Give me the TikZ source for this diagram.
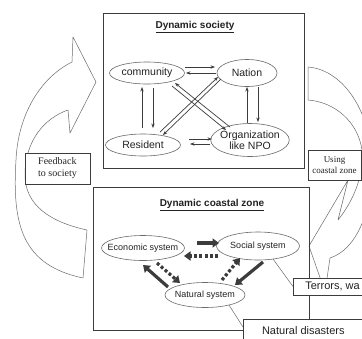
\documentclass[tikz,border=0pt]{standalone}
\usepackage{fontspec}
\setmainfont{Liberation Sans}
\newfontfamily\notefont{Liberation Serif}
\usetikzlibrary{arrows.meta,shapes.geometric,calc}

\begin{document}
\begin{tikzpicture}[x=1pt,y=-1pt,
    actor/.style={ellipse,draw=scan_gray,line width=0.6pt,inner xsep=-2pt,inner ysep=0pt,
        align=center,text=scan_text,font=\fontsize{10.5}{11}\selectfont},
    subsystem/.style={ellipse,draw=scan_gray,line width=0.6pt,inner xsep=-6pt,inner ysep=0pt,
        text=scan_text,font=\fontsize{9}{10}\selectfont},
    link/.style={draw=scan_dark,line width=0.7pt,-{Stealth[length=4.5pt,width=3.4pt]}},
    strongflow/.style={draw=scan_dark,line width=3.2pt,-{Triangle[length=6.5pt,width=9pt]}},
    weakflow/.style={strongflow,dash pattern=on 3pt off 2.2pt},
    callout/.style={draw=scan_gray,line width=0.5pt},
    notebox/.style={draw=scan_dark,fill=white,line width=0.6pt,text=scan_text},
    bigarrow/.style={draw=scan_gray,line width=0.5pt,line join=round},
    frame/.style={draw=scan_dark,line width=0.7pt}]
    \definecolor{scan_gray}{HTML}{6a6a6a}
    \definecolor{scan_dark}{HTML}{3c3c3c}
    \definecolor{scan_text}{HTML}{222222}
    \useasboundingbox[fill=white] (0,0) rectangle (362,338);
    \begin{scope}
    \clip (0,0) rectangle (362,338);

    % feedback arrow, left side
    \draw[bigarrow] (96,82) -- (73,37) -- (72,62)
        .. controls (40,78) and (18,115) .. (16,160)
        .. controls (12,225) and (22,265) .. (83,278)
        -- (87,230)
        .. controls (50,222) and (25,205) .. (25,175)
        .. controls (25,140) and (45,118) .. (68,110)
        -- (70,133) -- cycle;
    % using arrow, right side
    \draw[bigarrow] (308,100) -- (308,67)
        .. controls (345,70) and (372,115) .. (372,165)
        .. controls (372,215) and (355,250) .. (330,258)
        -- (325,292) -- (309,246) -- (348,180) -- (338,220)
        .. controls (354,200) and (364,175) .. (362,150)
        .. controls (358,122) and (335,102) .. (308,100) -- cycle;

    \draw[frame] (103,13) rectangle (304,168);
    \draw[frame] (93,187) rectangle (309,330);

    % society
    \node[text=scan_text,font=\bfseries\fontsize{10}{12}\selectfont] (society title) at (195,27) {\underline{Dynamic society}};
    \node[actor,minimum width=75,minimum height=22] (community) at (147,73) {community};
    \node[actor,minimum width=60,minimum height=27] (nation) at (247,73) {Nation};
    \node[actor,minimum width=75,minimum height=22] (resident) at (143,145) {Resident};
    \node[actor,minimum width=77,minimum height=33] (npo) at (250,140) {Organization\\like NPO};

    \draw[link] ($(community)+(38,-6)$) -- ($(nation)+(-32,-6)$);
    \draw[link] ($(nation)+(-31,0)$) -- ($(community)+(39,0)$);
    \draw[link] ($(resident)+(-1,-17)$) -- ($(community)+(-5,14)$);
    \draw[link] ($(community)+(6,15)$) -- ($(resident)+(10,-17)$);
    \draw[link] ($(npo)+(-3,-17)$) -- ($(nation)+(0,14)$);
    \draw[link] ($(nation)+(11,14)$) -- ($(npo)+(8,-18)$);
    \draw[link] ($(resident)+(46,-6)$) -- ($(npo)+(-38,-1)$);
    \draw[link] ($(npo)+(-40,4)$) -- ($(resident)+(47,-1)$);
    \draw[link] ($(resident)+(17,-13)$) -- ($(nation)+(-29,4)$);
    \draw[link] ($(nation)+(-26,6)$) -- ($(resident)+(20,-10)$);
    \draw[link] ($(npo)+(-20,-13)$) -- ($(community)+(28,10)$);
    \draw[link] ($(community)+(25,13)$) -- ($(npo)+(-24,-10)$);

    % coastal zone
    \node[text=scan_text,font=\bfseries\fontsize{10}{12}\selectfont] (coast title) at (212,205) {\underline{Dynamic coastal zone}};
    \node[subsystem,minimum width=83,minimum height=25] (economic) at (143,248) {Economic system};
    \node[subsystem,minimum width=83,minimum height=28] (social) at (258,246) {Social system};
    \node[subsystem,minimum width=80,minimum height=25] (natural) at (205,295) {Natural system};

    \draw[strongflow] ($(economic)+(54,-5)$) -- ($(social)+(-39,-3)$);
    \draw[weakflow] ($(social)+(-40,10)$) -- ($(economic)+(41,8)$);
    \draw[weakflow] ($(economic)+(14,15)$) -- ($(natural)+(-25,-12)$);
    \draw[strongflow] ($(natural)+(-37,-8)$) -- ($(economic)+(0,17)$);
    \draw[weakflow] ($(natural)+(17,-15)$) -- ($(social)+(-18,12)$);
    \draw[strongflow] ($(social)+(5,16)$) -- ($(natural)+(30,-10)$);

    % notes
    \node[notebox,anchor=west,minimum height=17,inner xsep=12pt,font=\fontsize{11}{12}\selectfont] (terrors) at (293,286.5) {Terrors, wa};
    \node[notebox,anchor=north west,minimum width=120,minimum height=23,font=\fontsize{11}{12}\selectfont] (disasters) at (243,319) {Natural disasters};
    \draw[callout] ($(social)+(15,13)$) -- (terrors.west);
    \draw[callout] ($(natural)+(24,10)$) -- ($(disasters.north west)+(0,8)$);

    \node[notebox,minimum width=65,minimum height=31,inner sep=0pt,align=left,font=\notefont\fontsize{10}{12}\selectfont] (feedback) at (57.5,168.5) {Feedback\\to society};
    \node[notebox,minimum width=53,minimum height=30,inner sep=0pt,align=center,font=\notefont\fontsize{9}{11}\selectfont] (usage) at (334.5,165) {Using\\coastal zone};
    \end{scope}
\end{tikzpicture}
\end{document}
